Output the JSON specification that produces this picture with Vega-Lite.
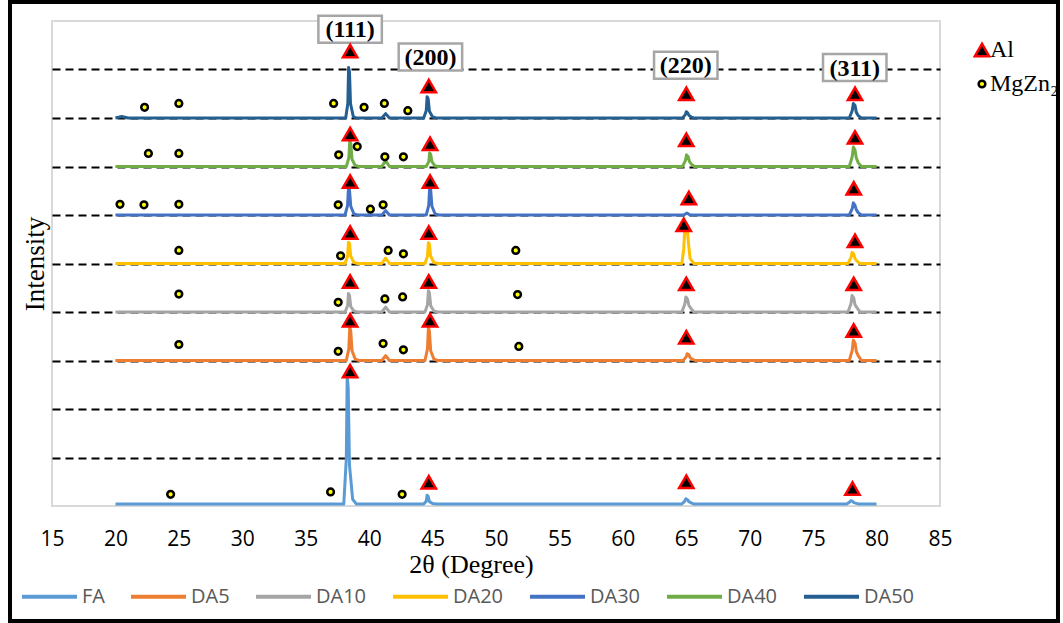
{
  "$schema": "https://vega.github.io/schema/vega-lite/v6.json",
  "width": 888,
  "height": 485,
  "autosize": {"type": "none"},
  "padding": {"left": 52, "top": 21, "right": 123, "bottom": 117},
  "background": "white",
  "config": {
    "view": {"stroke": "#D9D9D9", "strokeWidth": 2},
    "font": "Liberation Serif"
  },
  "datasets": {
    "curves": [
      {"s": "FA", "x": 20, "y": 0.04},
      {"s": "FA", "x": 38.0, "y": 0.04},
      {"s": "FA", "x": 38.2, "y": 0.97},
      {"s": "FA", "x": 38.27, "y": 2.7},
      {"s": "FA", "x": 38.35, "y": 2.43},
      {"s": "FA", "x": 38.45, "y": 0.84},
      {"s": "FA", "x": 38.7, "y": 0.14},
      {"s": "FA", "x": 39.0, "y": 0.04},
      {"s": "FA", "x": 44.3, "y": 0.04},
      {"s": "FA", "x": 44.5, "y": 0.1},
      {"s": "FA", "x": 44.57, "y": 0.22},
      {"s": "FA", "x": 44.65, "y": 0.2},
      {"s": "FA", "x": 44.75, "y": 0.09},
      {"s": "FA", "x": 45.0, "y": 0.05},
      {"s": "FA", "x": 45.3, "y": 0.04},
      {"s": "FA", "x": 64.65, "y": 0.04},
      {"s": "FA", "x": 64.88, "y": 0.1},
      {"s": "FA", "x": 64.97, "y": 0.15},
      {"s": "FA", "x": 65.1, "y": 0.13},
      {"s": "FA", "x": 65.2, "y": 0.09},
      {"s": "FA", "x": 65.35, "y": 0.07},
      {"s": "FA", "x": 65.6, "y": 0.04},
      {"s": "FA", "x": 77.65, "y": 0.04},
      {"s": "FA", "x": 77.88, "y": 0.08},
      {"s": "FA", "x": 77.97, "y": 0.11},
      {"s": "FA", "x": 78.1, "y": 0.1},
      {"s": "FA", "x": 78.2, "y": 0.07},
      {"s": "FA", "x": 78.35, "y": 0.06},
      {"s": "FA", "x": 78.6, "y": 0.04},
      {"s": "FA", "x": 80, "y": 0.04},

      {"s": "DA5", "x": 20, "y": 3.0},
      {"s": "DA5", "x": 38.2, "y": 3.0},
      {"s": "DA5", "x": 38.4, "y": 3.24},
      {"s": "DA5", "x": 38.47, "y": 3.68},
      {"s": "DA5", "x": 38.55, "y": 3.61},
      {"s": "DA5", "x": 38.65, "y": 3.2},
      {"s": "DA5", "x": 38.9, "y": 3.03},
      {"s": "DA5", "x": 39.2, "y": 3.0},
      {"s": "DA5", "x": 41.0, "y": 3.0},
      {"s": "DA5", "x": 41.3, "y": 3.1},
      {"s": "DA5", "x": 41.6, "y": 3.0},
      {"s": "DA5", "x": 44.4, "y": 3.0},
      {"s": "DA5", "x": 44.6, "y": 3.24},
      {"s": "DA5", "x": 44.67, "y": 3.68},
      {"s": "DA5", "x": 44.75, "y": 3.61},
      {"s": "DA5", "x": 44.85, "y": 3.2},
      {"s": "DA5", "x": 45.1, "y": 3.03},
      {"s": "DA5", "x": 45.4, "y": 3.0},
      {"s": "DA5", "x": 64.75, "y": 3.0},
      {"s": "DA5", "x": 64.98, "y": 3.07},
      {"s": "DA5", "x": 65.07, "y": 3.14},
      {"s": "DA5", "x": 65.2, "y": 3.12},
      {"s": "DA5", "x": 65.3, "y": 3.06},
      {"s": "DA5", "x": 65.45, "y": 3.03},
      {"s": "DA5", "x": 65.7, "y": 3.0},
      {"s": "DA5", "x": 77.85, "y": 3.0},
      {"s": "DA5", "x": 78.08, "y": 3.21},
      {"s": "DA5", "x": 78.17, "y": 3.42},
      {"s": "DA5", "x": 78.3, "y": 3.36},
      {"s": "DA5", "x": 78.4, "y": 3.19},
      {"s": "DA5", "x": 78.55, "y": 3.1},
      {"s": "DA5", "x": 78.8, "y": 3.0},
      {"s": "DA5", "x": 80, "y": 3.0},

      {"s": "DA10", "x": 20, "y": 4.0},
      {"s": "DA10", "x": 38.1, "y": 4.0},
      {"s": "DA10", "x": 38.3, "y": 4.13},
      {"s": "DA10", "x": 38.37, "y": 4.38},
      {"s": "DA10", "x": 38.45, "y": 4.34},
      {"s": "DA10", "x": 38.55, "y": 4.11},
      {"s": "DA10", "x": 38.8, "y": 4.02},
      {"s": "DA10", "x": 39.1, "y": 4.0},
      {"s": "DA10", "x": 41.0, "y": 4.0},
      {"s": "DA10", "x": 41.3, "y": 4.1},
      {"s": "DA10", "x": 41.6, "y": 4.0},
      {"s": "DA10", "x": 44.4, "y": 4.0},
      {"s": "DA10", "x": 44.6, "y": 4.15},
      {"s": "DA10", "x": 44.67, "y": 4.44},
      {"s": "DA10", "x": 44.75, "y": 4.4},
      {"s": "DA10", "x": 44.85, "y": 4.13},
      {"s": "DA10", "x": 45.1, "y": 4.02},
      {"s": "DA10", "x": 45.4, "y": 4.0},
      {"s": "DA10", "x": 64.65, "y": 4.0},
      {"s": "DA10", "x": 64.88, "y": 4.16},
      {"s": "DA10", "x": 64.97, "y": 4.31},
      {"s": "DA10", "x": 65.1, "y": 4.26},
      {"s": "DA10", "x": 65.2, "y": 4.14},
      {"s": "DA10", "x": 65.35, "y": 4.08},
      {"s": "DA10", "x": 65.6, "y": 4.0},
      {"s": "DA10", "x": 77.75, "y": 4.0},
      {"s": "DA10", "x": 77.98, "y": 4.17},
      {"s": "DA10", "x": 78.07, "y": 4.34},
      {"s": "DA10", "x": 78.2, "y": 4.29},
      {"s": "DA10", "x": 78.3, "y": 4.15},
      {"s": "DA10", "x": 78.45, "y": 4.09},
      {"s": "DA10", "x": 78.7, "y": 4.0},
      {"s": "DA10", "x": 80, "y": 4.0},

      {"s": "DA20", "x": 20, "y": 5.0},
      {"s": "DA20", "x": 38.1, "y": 5.0},
      {"s": "DA20", "x": 38.3, "y": 5.15},
      {"s": "DA20", "x": 38.37, "y": 5.44},
      {"s": "DA20", "x": 38.45, "y": 5.41},
      {"s": "DA20", "x": 38.55, "y": 5.15},
      {"s": "DA20", "x": 38.8, "y": 5.02},
      {"s": "DA20", "x": 39.1, "y": 5.0},
      {"s": "DA20", "x": 41.0, "y": 5.0},
      {"s": "DA20", "x": 41.3, "y": 5.11},
      {"s": "DA20", "x": 41.6, "y": 5.0},
      {"s": "DA20", "x": 44.4, "y": 5.0},
      {"s": "DA20", "x": 44.6, "y": 5.15},
      {"s": "DA20", "x": 44.67, "y": 5.43},
      {"s": "DA20", "x": 44.75, "y": 5.4},
      {"s": "DA20", "x": 44.85, "y": 5.15},
      {"s": "DA20", "x": 45.1, "y": 5.02},
      {"s": "DA20", "x": 45.4, "y": 5.0},
      {"s": "DA20", "x": 64.65, "y": 5.0},
      {"s": "DA20", "x": 64.8, "y": 5.3},
      {"s": "DA20", "x": 64.88, "y": 5.7},
      {"s": "DA20", "x": 65.08, "y": 5.68},
      {"s": "DA20", "x": 65.18, "y": 5.4},
      {"s": "DA20", "x": 65.3, "y": 5.1},
      {"s": "DA20", "x": 65.6, "y": 5.0},
      {"s": "DA20", "x": 77.75, "y": 5.0},
      {"s": "DA20", "x": 77.98, "y": 5.12},
      {"s": "DA20", "x": 78.07, "y": 5.23},
      {"s": "DA20", "x": 78.2, "y": 5.2},
      {"s": "DA20", "x": 78.3, "y": 5.1},
      {"s": "DA20", "x": 78.45, "y": 5.05},
      {"s": "DA20", "x": 78.7, "y": 5.0},
      {"s": "DA20", "x": 80, "y": 5.0},

      {"s": "DA30", "x": 20, "y": 6.0},
      {"s": "DA30", "x": 38.1, "y": 6.0},
      {"s": "DA30", "x": 38.3, "y": 6.2},
      {"s": "DA30", "x": 38.37, "y": 6.57},
      {"s": "DA30", "x": 38.45, "y": 6.52},
      {"s": "DA30", "x": 38.55, "y": 6.18},
      {"s": "DA30", "x": 38.8, "y": 6.02},
      {"s": "DA30", "x": 39.1, "y": 6.0},
      {"s": "DA30", "x": 41.0, "y": 6.0},
      {"s": "DA30", "x": 41.3, "y": 6.09},
      {"s": "DA30", "x": 41.6, "y": 6.0},
      {"s": "DA30", "x": 44.5, "y": 6.0},
      {"s": "DA30", "x": 44.7, "y": 6.2},
      {"s": "DA30", "x": 44.77, "y": 6.57},
      {"s": "DA30", "x": 44.85, "y": 6.52},
      {"s": "DA30", "x": 44.95, "y": 6.18},
      {"s": "DA30", "x": 45.2, "y": 6.02},
      {"s": "DA30", "x": 45.5, "y": 6.0},
      {"s": "DA30", "x": 64.8, "y": 6.0},
      {"s": "DA30", "x": 65.05, "y": 6.04},
      {"s": "DA30", "x": 65.3, "y": 6.0},
      {"s": "DA30", "x": 77.85, "y": 6.0},
      {"s": "DA30", "x": 78.08, "y": 6.13},
      {"s": "DA30", "x": 78.17, "y": 6.25},
      {"s": "DA30", "x": 78.3, "y": 6.2},
      {"s": "DA30", "x": 78.4, "y": 6.11},
      {"s": "DA30", "x": 78.55, "y": 6.05},
      {"s": "DA30", "x": 78.8, "y": 6.0},
      {"s": "DA30", "x": 80, "y": 6.0},

      {"s": "DA40", "x": 20, "y": 7.0},
      {"s": "DA40", "x": 38.2, "y": 7.0},
      {"s": "DA40", "x": 38.4, "y": 7.18},
      {"s": "DA40", "x": 38.47, "y": 7.53},
      {"s": "DA40", "x": 38.55, "y": 7.48},
      {"s": "DA40", "x": 38.65, "y": 7.15},
      {"s": "DA40", "x": 38.9, "y": 7.02},
      {"s": "DA40", "x": 39.2, "y": 7.0},
      {"s": "DA40", "x": 41.0, "y": 7.0},
      {"s": "DA40", "x": 41.3, "y": 7.12},
      {"s": "DA40", "x": 41.6, "y": 7.0},
      {"s": "DA40", "x": 44.5, "y": 7.0},
      {"s": "DA40", "x": 44.7, "y": 7.1},
      {"s": "DA40", "x": 44.77, "y": 7.28},
      {"s": "DA40", "x": 44.85, "y": 7.25},
      {"s": "DA40", "x": 44.95, "y": 7.1},
      {"s": "DA40", "x": 45.2, "y": 7.01},
      {"s": "DA40", "x": 45.5, "y": 7.0},
      {"s": "DA40", "x": 64.7, "y": 7.0},
      {"s": "DA40", "x": 64.93, "y": 7.12},
      {"s": "DA40", "x": 65.02, "y": 7.24},
      {"s": "DA40", "x": 65.15, "y": 7.2},
      {"s": "DA40", "x": 65.25, "y": 7.1},
      {"s": "DA40", "x": 65.4, "y": 7.05},
      {"s": "DA40", "x": 65.65, "y": 7.0},
      {"s": "DA40", "x": 77.85, "y": 7.0},
      {"s": "DA40", "x": 78.08, "y": 7.2},
      {"s": "DA40", "x": 78.17, "y": 7.4},
      {"s": "DA40", "x": 78.3, "y": 7.34},
      {"s": "DA40", "x": 78.4, "y": 7.18},
      {"s": "DA40", "x": 78.55, "y": 7.08},
      {"s": "DA40", "x": 78.8, "y": 7.0},
      {"s": "DA40", "x": 80, "y": 7.0},

      {"s": "DA50", "x": 20, "y": 8.0},
      {"s": "DA50", "x": 20.5, "y": 8.03},
      {"s": "DA50", "x": 21.0, "y": 8.0},
      {"s": "DA50", "x": 38.15, "y": 8.0},
      {"s": "DA50", "x": 38.32, "y": 8.3},
      {"s": "DA50", "x": 38.38, "y": 9.04},
      {"s": "DA50", "x": 38.45, "y": 8.95},
      {"s": "DA50", "x": 38.53, "y": 8.3},
      {"s": "DA50", "x": 38.75, "y": 8.03},
      {"s": "DA50", "x": 39.0, "y": 8.0},
      {"s": "DA50", "x": 41.0, "y": 8.0},
      {"s": "DA50", "x": 41.3, "y": 8.09},
      {"s": "DA50", "x": 41.6, "y": 8.0},
      {"s": "DA50", "x": 44.3, "y": 8.0},
      {"s": "DA50", "x": 44.5, "y": 8.15},
      {"s": "DA50", "x": 44.57, "y": 8.44},
      {"s": "DA50", "x": 44.65, "y": 8.4},
      {"s": "DA50", "x": 44.75, "y": 8.14},
      {"s": "DA50", "x": 45.0, "y": 8.02},
      {"s": "DA50", "x": 45.3, "y": 8.0},
      {"s": "DA50", "x": 64.7, "y": 8.0},
      {"s": "DA50", "x": 64.93, "y": 8.07},
      {"s": "DA50", "x": 65.0, "y": 8.13},
      {"s": "DA50", "x": 65.12, "y": 8.1},
      {"s": "DA50", "x": 65.22, "y": 8.05},
      {"s": "DA50", "x": 65.4, "y": 8.02},
      {"s": "DA50", "x": 65.6, "y": 8.0},
      {"s": "DA50", "x": 77.85, "y": 8.0},
      {"s": "DA50", "x": 78.08, "y": 8.15},
      {"s": "DA50", "x": 78.17, "y": 8.3},
      {"s": "DA50", "x": 78.3, "y": 8.26},
      {"s": "DA50", "x": 78.4, "y": 8.12},
      {"s": "DA50", "x": 78.55, "y": 8.05},
      {"s": "DA50", "x": 78.8, "y": 8.0},
      {"s": "DA50", "x": 80, "y": 8.0}
    ],
    "markers": [
      {"phase": "Al", "x": 38.5, "y": 9.38},
      {"phase": "Al", "x": 44.7, "y": 8.66},
      {"phase": "Al", "x": 65.0, "y": 8.5},
      {"phase": "Al", "x": 78.3, "y": 8.5},
      {"phase": "Al", "x": 38.5, "y": 7.67},
      {"phase": "Al", "x": 44.8, "y": 7.47},
      {"phase": "Al", "x": 65.0, "y": 7.55},
      {"phase": "Al", "x": 78.3, "y": 7.6},
      {"phase": "Al", "x": 38.5, "y": 6.69},
      {"phase": "Al", "x": 44.8, "y": 6.69},
      {"phase": "Al", "x": 65.2, "y": 6.35},
      {"phase": "Al", "x": 78.2, "y": 6.55},
      {"phase": "Al", "x": 38.5, "y": 5.64},
      {"phase": "Al", "x": 44.7, "y": 5.64},
      {"phase": "Al", "x": 64.8, "y": 5.8},
      {"phase": "Al", "x": 78.3, "y": 5.47},
      {"phase": "Al", "x": 38.5, "y": 4.63},
      {"phase": "Al", "x": 44.7, "y": 4.63},
      {"phase": "Al", "x": 65.0, "y": 4.58},
      {"phase": "Al", "x": 78.2, "y": 4.58},
      {"phase": "Al", "x": 38.5, "y": 3.83},
      {"phase": "Al", "x": 44.8, "y": 3.83},
      {"phase": "Al", "x": 65.0, "y": 3.48},
      {"phase": "Al", "x": 78.2, "y": 3.62},
      {"phase": "Al", "x": 38.5, "y": 2.78},
      {"phase": "Al", "x": 44.7, "y": 0.49},
      {"phase": "Al", "x": 65.0, "y": 0.5},
      {"phase": "Al", "x": 78.1, "y": 0.36},
      {"phase": "MgZn₂", "x": 22.3, "y": 8.22},
      {"phase": "MgZn₂", "x": 25.0, "y": 8.3},
      {"phase": "MgZn₂", "x": 37.2, "y": 8.3},
      {"phase": "MgZn₂", "x": 39.6, "y": 8.22},
      {"phase": "MgZn₂", "x": 41.2, "y": 8.3},
      {"phase": "MgZn₂", "x": 43.05, "y": 8.15},
      {"phase": "MgZn₂", "x": 22.6, "y": 7.27},
      {"phase": "MgZn₂", "x": 25.0, "y": 7.27},
      {"phase": "MgZn₂", "x": 37.6, "y": 7.24},
      {"phase": "MgZn₂", "x": 39.06, "y": 7.41},
      {"phase": "MgZn₂", "x": 41.24, "y": 7.2},
      {"phase": "MgZn₂", "x": 42.7, "y": 7.2},
      {"phase": "MgZn₂", "x": 20.36, "y": 6.22},
      {"phase": "MgZn₂", "x": 22.25, "y": 6.21},
      {"phase": "MgZn₂", "x": 25.0, "y": 6.22},
      {"phase": "MgZn₂", "x": 37.56, "y": 6.21},
      {"phase": "MgZn₂", "x": 40.1, "y": 6.12},
      {"phase": "MgZn₂", "x": 41.1, "y": 6.21},
      {"phase": "MgZn₂", "x": 25.0, "y": 5.27},
      {"phase": "MgZn₂", "x": 37.75, "y": 5.16},
      {"phase": "MgZn₂", "x": 41.5, "y": 5.27},
      {"phase": "MgZn₂", "x": 42.7, "y": 5.2},
      {"phase": "MgZn₂", "x": 51.56, "y": 5.27},
      {"phase": "MgZn₂", "x": 25.0, "y": 4.37},
      {"phase": "MgZn₂", "x": 37.56, "y": 4.2},
      {"phase": "MgZn₂", "x": 41.24, "y": 4.27},
      {"phase": "MgZn₂", "x": 42.64, "y": 4.31},
      {"phase": "MgZn₂", "x": 51.7, "y": 4.36},
      {"phase": "MgZn₂", "x": 25.0, "y": 3.33},
      {"phase": "MgZn₂", "x": 37.56, "y": 3.19},
      {"phase": "MgZn₂", "x": 41.1, "y": 3.35},
      {"phase": "MgZn₂", "x": 42.7, "y": 3.22},
      {"phase": "MgZn₂", "x": 51.8, "y": 3.29},
      {"phase": "MgZn₂", "x": 24.35, "y": 0.24},
      {"phase": "MgZn₂", "x": 36.96, "y": 0.29},
      {"phase": "MgZn₂", "x": 42.6, "y": 0.24}
    ],
    "hkl": [
      {"x": 38.5, "y": 9.83, "label": "(111)"},
      {"x": 44.83, "y": 9.26, "label": "(200)"},
      {"x": 64.96, "y": 9.09, "label": "(220)"},
      {"x": 78.28, "y": 9.04, "label": "(311)"}
    ]
  },
  "layer": [
    {
      "data": {"values": [{"frame": "border"}]},
      "mark": {"type": "rect", "fillOpacity": 0, "stroke": "#000000", "strokeWidth": 4, "clip": false},
      "encoding": {
        "x": {"datum": 11.69, "type": "quantitative", "scale": {"domain": [15, 85]}},
        "x2": {"datum": 94.3},
        "y": {"datum": 10.39, "type": "quantitative", "scale": {"domain": [0, 10]}},
        "y2": {"datum": -2.371}
      }
    },
    {
      "data": {"name": "curves"},
      "mark": {"type": "line", "strokeWidth": 3, "strokeJoin": "round"},
      "encoding": {
        "x": {
          "field": "x", "type": "quantitative",
          "scale": {"domain": [15, 85], "nice": false, "zero": false},
          "axis": {
            "title": "2θ (Degree)",
            "values": [15, 20, 25, 30, 35, 40, 45, 50, 55, 60, 65, 70, 75, 80, 85],
            "grid": false, "ticks": false, "domain": false, "labelFlush": false,
            "labelFont": "Open Sans", "labelFontSize": 21, "labelColor": "#000000",
            "labelPadding": 22,
            "titleFont": "Liberation Serif", "titleFontSize": 26, "titleFontWeight": "normal",
            "titleColor": "#000000", "titlePadding": 2, "titleX": 419
          }
        },
        "y": {
          "field": "y", "type": "quantitative",
          "scale": {"domain": [0, 10], "nice": false, "zero": false},
          "axis": {
            "title": "Intensity",
            "values": [1, 2, 3, 4, 5, 6, 7, 8, 9],
            "grid": true, "gridColor": "#000000", "gridDash": [8, 5], "gridWidth": 1.8,
            "labels": false, "ticks": false, "domain": false,
            "titleFont": "Liberation Serif", "titleFontSize": 27, "titleFontWeight": "normal",
            "titleColor": "#000000", "titlePadding": 3
          }
        },
        "color": {
          "field": "s", "type": "nominal",
          "scale": {
            "domain": ["FA", "DA5", "DA10", "DA20", "DA30", "DA40", "DA50"],
            "range": ["#5B9BD5", "#ED7D31", "#A5A5A5", "#FFC000", "#4472C4", "#70AD47", "#255E91"]
          },
          "legend": {
            "orient": "none", "legendX": -32, "legendY": 546, "direction": "horizontal",
            "title": null, "symbolType": "stroke", "symbolSize": 3025, "symbolStrokeWidth": 4,
            "labelFont": "Open Sans", "labelFontSize": 20, "labelColor": "#595959",
            "columnPadding": 18, "labelOffset": 3, "padding": 0
          }
        }
      }
    },
    {
      "data": {"name": "hkl"},
      "mark": {"type": "point", "shape": "M-2.35,-1H2.35V1H-2.35Z", "size": 729, "filled": true, "fill": "#FFFFFF", "stroke": "#A6A6A6", "strokeWidth": 2.5, "opacity": 1},
      "encoding": {
        "x": {"field": "x", "type": "quantitative"},
        "y": {"field": "y", "type": "quantitative"}
      }
    },
    {
      "data": {"name": "hkl"},
      "mark": {"type": "text", "font": "Liberation Serif", "fontSize": 24, "fontWeight": "bold", "color": "#000000", "align": "center", "baseline": "middle", "dy": 1},
      "encoding": {
        "x": {"field": "x", "type": "quantitative"},
        "y": {"field": "y", "type": "quantitative"},
        "text": {"field": "label"}
      }
    },
    {
      "data": {"name": "markers"},
      "mark": {"type": "point", "filled": true, "strokeJoin": "miter", "strokeWidth": 2.5, "opacity": 1},
      "encoding": {
        "x": {"field": "x", "type": "quantitative"},
        "y": {"field": "y", "type": "quantitative"},
        "shape": {
          "field": "phase", "type": "nominal",
          "scale": {"domain": ["Al", "MgZn₂"], "range": ["triangle-up", "circle"]},
          "legend": {
            "orient": "none", "legendX": 918, "legendY": 17, "title": null,
            "labelFont": "Liberation Serif", "labelFontSize": 24, "labelColor": "#000000",
            "labelOffset": -4, "rowPadding": 10, "padding": 0, "symbolStrokeWidth": 2.5
          }
        },
        "fill": {"field": "phase", "type": "nominal", "scale": {"domain": ["Al", "MgZn₂"], "range": ["#000000", "#FFFF00"]}},
        "stroke": {"field": "phase", "type": "nominal", "scale": {"domain": ["Al", "MgZn₂"], "range": ["#FF0000", "#000000"]}},
        "size": {"field": "phase", "type": "nominal", "scale": {"domain": ["Al", "MgZn₂"], "range": [205, 45]}},
        "opacity": {"value": 1}
      }
    }
  ]
}
